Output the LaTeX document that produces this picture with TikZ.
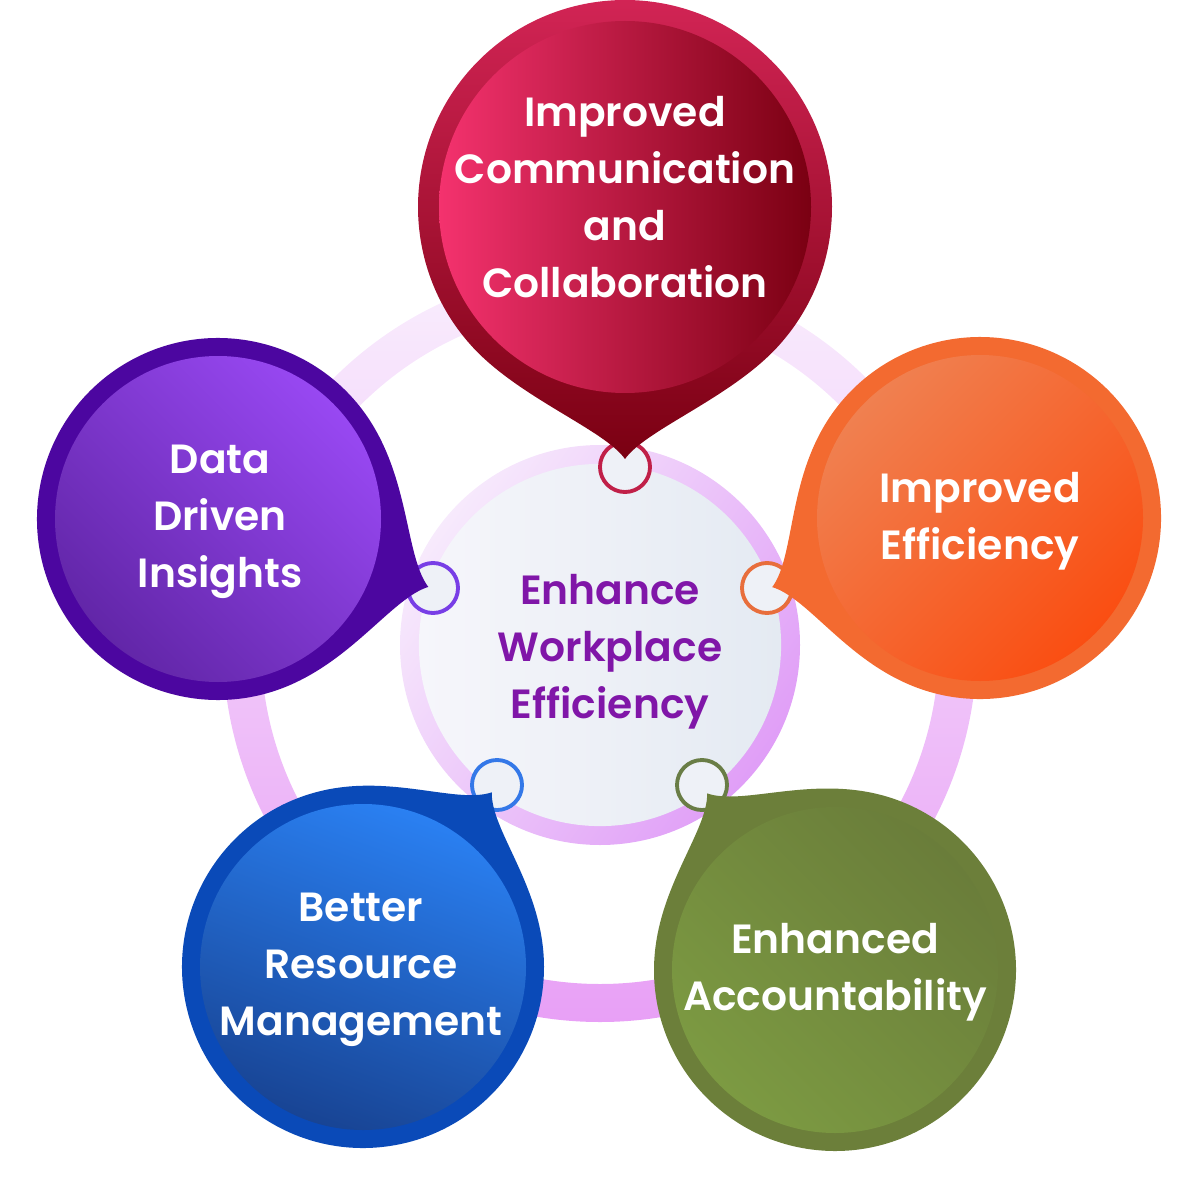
\documentclass[tikz,border=0pt]{standalone}
\usepackage{fontspec}
\setmainfont{Poppins}[BoldFont=* SemiBold]
\definecolor{ringpale}{RGB}{249,238,253}
\definecolor{ringdeep}{RGB}{232,160,246}
\definecolor{hubring}{RGB}{224,158,247}
\definecolor{hubpale}{RGB}{247,234,252}
\definecolor{hubleft}{RGB}{246,246,251}
\definecolor{hubright}{RGB}{228,234,242}
\definecolor{hubtext}{RGB}{128,22,168}
\definecolor{dotfill}{RGB}{238,241,247}
\definecolor{redlight}{RGB}{244,50,110}
\definecolor{reddark}{RGB}{122,0,18}
\definecolor{redrim}{RGB}{214,38,88}
\definecolor{redrimdark}{RGB}{122,0,18}
\definecolor{reddot}{RGB}{192,32,72}
\definecolor{orangelight}{RGB}{240,128,80}
\definecolor{orangedeep}{RGB}{250,78,18}
\definecolor{orangerim}{RGB}{243,106,48}
\definecolor{orangedot}{RGB}{232,110,60}
\definecolor{purplelight}{RGB}{152,72,242}
\definecolor{purpledeep}{RGB}{98,38,168}
\definecolor{purplerim}{RGB}{76,6,160}
\definecolor{purpledot}{RGB}{120,62,230}
\definecolor{bluelight}{RGB}{42,128,242}
\definecolor{bluedeep}{RGB}{24,68,148}
\definecolor{bluerim}{RGB}{10,74,184}
\definecolor{bluedot}{RGB}{52,120,232}
\definecolor{greenlight}{RGB}{124,154,66}
\definecolor{greendeep}{RGB}{106,125,58}
\definecolor{greenrim}{RGB}{108,127,58}
\definecolor{greendot}{RGB}{105,125,70}
\usepackage{tikz}
\usetikzlibrary{calc}

% drop outline: radius, tip distance, tip direction (around the current origin)
\newcommand{\droppath}[3]{(#3+48:#1) arc[start angle=#3+48, end angle=#3+312, radius=#1]
  .. controls ($(#3-48:#1)+(#3+42:70)$) and ($(#3:#2)+(#3+215:36)$) .. (#3:#2)
  .. controls ($(#3:#2)+(#3+145:36)$) and ($(#3+48:#1)+(#3-42:70)$) .. (#3+48:#1) -- cycle}

\begin{document}
\begin{tikzpicture}[x=0.01cm, y=0.01cm,
  every node/.style={font=\fontsize{11.6}{16.2}\selectfont\bfseries},
  bubbletext/.style={text=white, align=center},
  dot/.style={circle, line width=1.1pt, fill=dotfill, minimum size=0.5cm, inner sep=0pt}]
\useasboundingbox (0,0) rectangle (1200,-1185);
% outer ring
\shade[top color=ringpale, bottom color=ringdeep, even odd rule]
  (600,-645) circle[radius=377] (600,-645) circle[radius=339];
% hub
\shade[top color=hubpale, bottom color=hubring, shading angle=55] (600,-645) circle[radius=200];
\node[circle, minimum size=3.62cm, inner sep=0pt, left color=hubleft, right color=hubright,
      text=hubtext] (hub) at (600,-645) {};
\node[text=hubtext, align=center] (hubtxt) at (610,-652) {Enhance\\Workplace\\Efficiency};
% small joints on the hub
\node[dot, draw=reddot] (dotcom) at (625,-467) {};
\node[dot, draw=orangedot] (doteff) at (767,-588) {};
\node[dot, draw=purpledot] (dotdat) at (433,-588) {};
\node[dot, draw=bluedot] (dotres) at (497,-785) {};
\node[dot, draw=greendot] (dotacc) at (702,-785) {};
% communication bubble
\begin{scope}[shift={(625,-207)}]
  \shade[top color=redrim, bottom color=redrimdark] \droppath{207}{252}{-90};
  \shade[left color=redlight, right color=reddark] (0,0) circle[radius=186];
\end{scope}
\node[bubbletext] (com) at (625,-197) {Improved\\Communication\\and\\Collaboration};
% efficiency bubble
\begin{scope}[shift={(980,-518)}]
  \fill[orangerim] \droppath{181}{219}{198.4};
  \shade[top color=orangelight, bottom color=orangedeep, shading angle=45] (0,0) circle[radius=163];
\end{scope}
\node[bubbletext] (eff) at (980,-521) {Improved\\Efficiency};
% data bubble
\begin{scope}[shift={(218,-519)}]
  \fill[purplerim] \droppath{181}{221}{-17.9};
  \shade[top color=purplelight, bottom color=purpledeep, shading angle=-45] (0,0) circle[radius=163];
\end{scope}
\node[bubbletext] (dat) at (220,-522) {Data\\Driven\\Insights};
% resource bubble
\begin{scope}[shift={(363,-967)}]
  \fill[bluerim] \droppath{181}{217}{53.6};
  \shade[top color=bluelight, bottom color=bluedeep, shading angle=-20] (0,0) circle[radius=163];
\end{scope}
\node[bubbletext] (res) at (361,-970) {Better\\Resource\\Management};
% accountability bubble
\begin{scope}[shift={(835,-970)}]
  \fill[greenrim] \droppath{181}{218}{125.9};
  \shade[top color=greendeep, bottom color=greenlight, shading angle=-45] (0,0) circle[radius=163];
\end{scope}
\node[bubbletext] (acc) at (835,-972) {Enhanced\\Accountability};
\end{tikzpicture}
\end{document}
